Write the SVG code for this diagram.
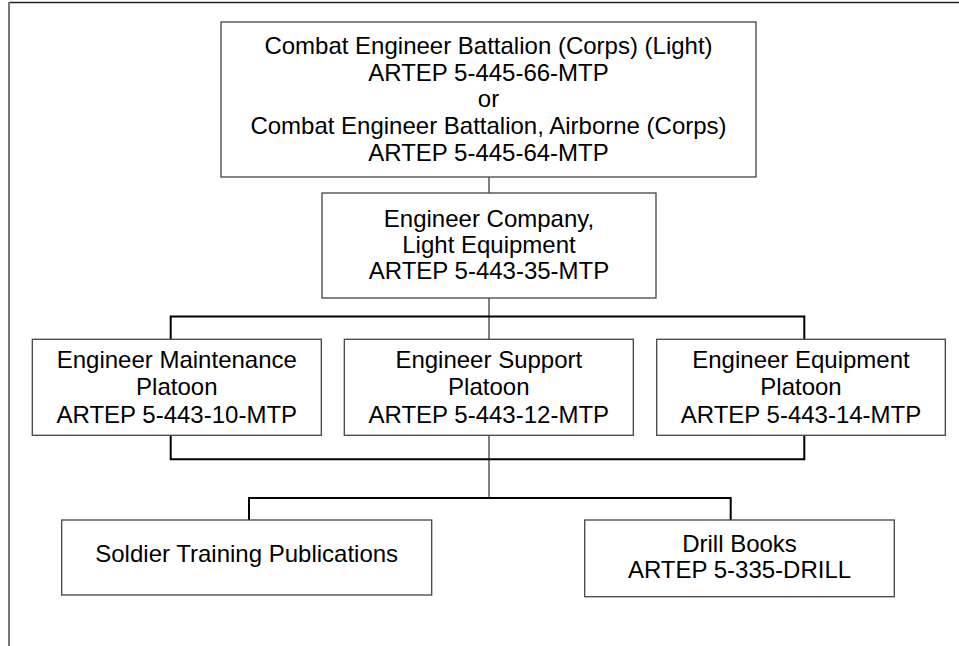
<svg xmlns="http://www.w3.org/2000/svg" width="959" height="646" viewBox="0 0 959 646">
<style>
.box{fill:#fff;stroke:#444;stroke-width:1.3}
.t{font-family:"Liberation Sans",Arial,sans-serif;font-size:24px;fill:#000;text-anchor:middle}
.bus{fill:none;stroke:#000;stroke-width:2}
.stem{fill:none;stroke:#808080;stroke-width:2}
</style>
<rect x="0" y="0" width="959" height="646" fill="#fff"/>
<g id="frame">
<line x1="9" y1="2.5" x2="959" y2="2.5" stroke="#222" stroke-width="1.5"/>
<line x1="9" y1="2" x2="9" y2="646" stroke="#777" stroke-width="2"/>
</g>
<g id="connectors">
<line class="stem" x1="489" y1="177" x2="489" y2="193"/>
<line class="stem" x1="489" y1="298" x2="489" y2="498"/>
<polyline class="bus" points="170.7,339 170.7,316.5 804.3,316.5 804.3,339"/>
<polyline class="bus" points="170.7,435 170.7,459.3 804.3,459.3 804.3,435"/>
<polyline class="bus" points="249,520 249,498 730.7,498 730.7,520"/>
</g>
<g id="battalion">
<rect class="box" x="221" y="22" width="535" height="155"/>
<text class="t" x="488.5" y="54">Combat Engineer Battalion (Corps) (Light)</text>
<text class="t" x="488.5" y="80.7">ARTEP 5-445-66-MTP</text>
<text class="t" x="488.5" y="107.3">or</text>
<text class="t" x="488.5" y="134">Combat Engineer Battalion, Airborne (Corps)</text>
<text class="t" x="488.5" y="160.7">ARTEP 5-445-64-MTP</text>
</g>
<g id="company">
<rect class="box" x="322" y="193" width="334" height="105"/>
<text class="t" x="489" y="226.7">Engineer Company,</text>
<text class="t" x="489" y="253">Light Equipment</text>
<text class="t" x="489" y="279.3">ARTEP 5-443-35-MTP</text>
</g>
<g id="maintenance">
<rect class="box" x="32.3" y="339.3" width="289" height="96"/>
<text class="t" x="176.8" y="367.7">Engineer Maintenance</text>
<text class="t" x="176.8" y="395">Platoon</text>
<text class="t" x="176.8" y="422.5">ARTEP 5-443-10-MTP</text>
</g>
<g id="support">
<rect class="box" x="344.3" y="339.3" width="289" height="96"/>
<text class="t" x="488.8" y="367.7">Engineer Support</text>
<text class="t" x="488.8" y="395">Platoon</text>
<text class="t" x="488.8" y="422.5">ARTEP 5-443-12-MTP</text>
</g>
<g id="equipment">
<rect class="box" x="656.7" y="339.3" width="288.6" height="96"/>
<text class="t" x="801" y="367.7">Engineer Equipment</text>
<text class="t" x="801" y="395">Platoon</text>
<text class="t" x="801" y="422.5">ARTEP 5-443-14-MTP</text>
</g>
<g id="soldier">
<rect class="box" x="61.7" y="520" width="370" height="75"/>
<text class="t" x="246.7" y="561.7">Soldier Training Publications</text>
</g>
<g id="drill">
<rect class="box" x="584.7" y="520" width="309.6" height="76.7"/>
<text class="t" x="739.5" y="552.3">Drill Books</text>
<text class="t" x="739.5" y="578.3">ARTEP 5-335-DRILL</text>
</g>
</svg>
